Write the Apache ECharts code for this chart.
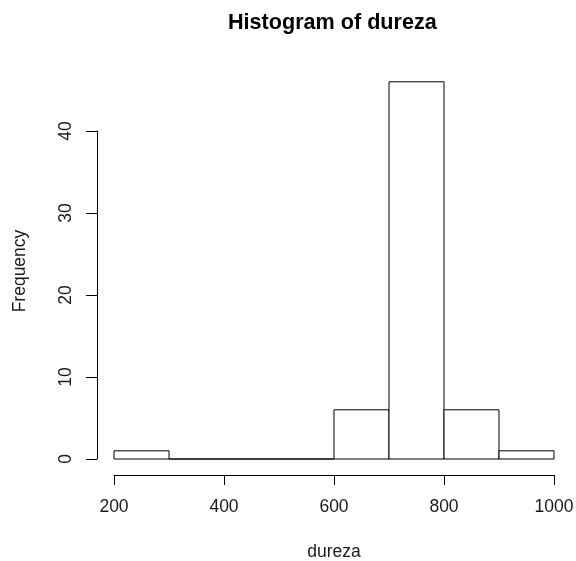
<!DOCTYPE html>
<html>
<head>
<meta charset="utf-8">
<script src="https://cdn.jsdelivr.net/npm/echarts@6/dist/echarts.min.js"></script>
<style>
html,body{margin:0;padding:0;background:#fff;}
#chart{width:576px;height:561px;}
</style>
</head>
<body>
<div id="chart"></div>
<script>
var binStart = [200, 300, 400, 500, 600, 700, 800, 900];
var binEnd   = [300, 400, 500, 600, 700, 800, 900, 1000];
var counts   = [1, 0, 0, 0, 6, 46, 6, 1];
var xTicks = [200, 400, 600, 800, 1000];
var yTicks = [0, 10, 20, 30, 40];

var FONT = 'Liberation Sans, Arial, sans-serif';
var data = binStart.map(function (s, i) { return [s, binEnd[i], counts[i]]; });

var chart = echarts.init(document.getElementById('chart'), null, {renderer: 'canvas'});
chart.setOption({
  animation: false,
  backgroundColor: '#ffffff',
  title: {
    text: 'Histogram of dureza',
    left: 228, top: 12, padding: 0,
    textStyle: {fontFamily: FONT, fontWeight: 'bold', fontSize: 21.6, color: '#000'}
  },
  grid: {left: 114, right: 22, top: 131, bottom: 102, containLabel: false, outerBoundsMode: 'none'},
  xAxis: {
    type: 'value', min: 200, max: 1000, interval: 200,
    offset: 16,
    name: 'dureza', nameLocation: 'middle', nameGap: 68,
    nameTextStyle: {fontFamily: FONT, fontSize: 17.5, color: '#1a1a1a'},
    axisLine: {show: true, onZero: false, lineStyle: {color: '#000', width: 1}},
    axisTick: {show: true, inside: false, length: 10, lineStyle: {color: '#000'}},
    axisLabel: {margin: 23, fontFamily: FONT, fontSize: 17.5, color: '#1a1a1a',
      formatter: function (v) { return xTicks.indexOf(v) >= 0 ? String(v) : ''; }},
    splitLine: {show: false}
  },
  yAxis: {
    type: 'value', min: 0, max: 40, interval: 10,
    offset: 17,
    axisLine: {show: true, onZero: false, lineStyle: {color: '#000', width: 1}},
    axisTick: {show: true, inside: false, length: 11, lineStyle: {color: '#000'}},
    axisLabel: {rotate: 90, margin: 22, fontFamily: FONT, fontSize: 17.5, color: '#1a1a1a',
      formatter: function (v) { return yTicks.indexOf(v) >= 0 ? String(v) : ''; }},
    splitLine: {show: false}
  },
  graphic: [{
    type: 'text',
    x: 20, y: 271, rotation: Math.PI / 2,
    style: {text: 'Frequency', fontFamily: FONT, fontSize: 17.5, fill: '#1a1a1a',
      align: 'center', verticalAlign: 'middle'}
  }],
  series: [{
    type: 'custom',
    clip: false,
    data: data,
    encode: {x: [0, 1], y: 2},
    renderItem: function (params, api) {
      var p0 = api.coord([api.value(0), 0]);
      var p1 = api.coord([api.value(1), api.value(2)]);
      return {
        type: 'rect',
        shape: {x: p0[0], y: p1[1], width: p1[0] - p0[0], height: p0[1] - p1[1]},
        style: {fill: '#ffffff', stroke: '#000000', lineWidth: 1}
      };
    }
  }]
});
</script>
</body>
</html>
